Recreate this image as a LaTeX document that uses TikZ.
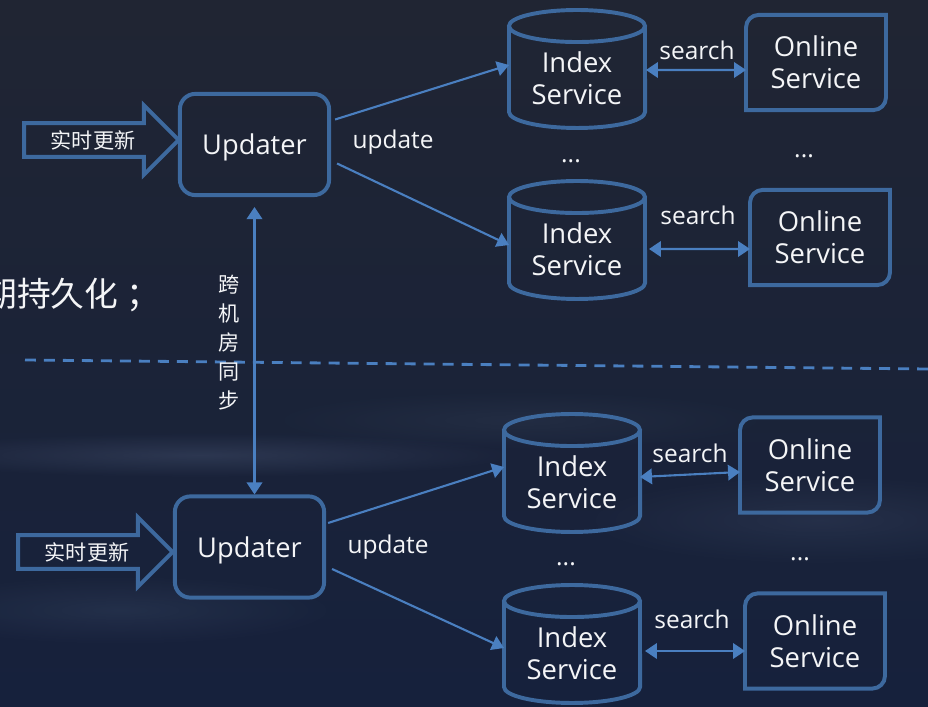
\documentclass[tikz,border=0pt]{standalone}
\usepackage{fontspec}
\setmainfont{Open Sans}
\newfontfamily\cjk{Noto Sans CJK SC}
\usepackage{tikz}
\usetikzlibrary{shapes.geometric, shapes.arrows, arrows.meta, positioning, calc, fadings}
\definecolor{bgTop}{RGB}{32,37,51}
\definecolor{bgBot}{RGB}{22,33,60}
\definecolor{cCloud}{RGB}{110,130,165}
\definecolor{cBox}{RGB}{61,105,158}
\definecolor{cLine}{RGB}{74,127,192}
\definecolor{cText}{RGB}{244,245,247}
\tikzfading[name=softglow, inner color=transparent!0, outer color=transparent!100]
\tikzset{
	updbox/.style ={rectangle, rounded corners=11pt, draw=cBox, line width=2.8pt, minimum width=3.73cm, minimum height=2.53cm, text depth=0pt, text=cText, font=\fontsize{19.4}{23}\selectfont},
	idxdb/.style  ={rectangle, outer sep=1.4pt, minimum width=3.3cm, minimum height=2.85cm, align=center, text=cText, font=\fontsize{19.5}{22.7}\selectfont},
	onlbox/.style ={rectangle, outer sep=1.4pt, minimum width=3.4cm, minimum height=2.28cm, align=center, text=cText, font=\fontsize{19.5}{22.7}\selectfont},
	outl/.style   ={draw=cBox, line width=2.8pt},
	bigarrow/.style={single arrow, single arrow head extend=0.45cm, draw=cBox, line width=2.8pt, minimum height=3.86cm, inner ysep=3.6pt, text=cText, font=\cjk\fontsize{15}{18}\selectfont},
	lbl/.style    ={text=cText, font=\fontsize{17.4}{20}\selectfont},
	flow/.style   ={-{Triangle[length=8.5pt, width=10.5pt]}, draw=cLine, line width=1.5pt},
	dflow/.style  ={{Triangle[length=8.5pt, width=11pt]}-{Triangle[length=8.5pt, width=11pt]}, draw=cLine, line width=1.5pt},
	cloud/.style  ={fill=cCloud, path fading=softglow},
}
% online service box: round corners top left / bottom right
\newcommand{\onlsvc}[3]{%
	\node[onlbox] (#1) at (#2,#3) {Online\\Service};
	\draw[outl] (#1.north east) -- ([yshift=9pt]#1.south east) arc[start angle=0, end angle=-90, radius=9pt] -- (#1.south west) -- ([yshift=-9pt]#1.north west) arc[start angle=180, end angle=90, radius=9pt] -- cycle;}
% index service: a can, text sits a bit low
\newcommand{\idxsvc}[3]{%
	\node[idxdb] (#1) at (#2,#3) {\mbox{}\\[5pt]Index\\Service};
	\draw[outl] ([yshift=-0.4cm]#1.north west) -- ([yshift=0.4cm]#1.south west) arc[start angle=180, end angle=360, x radius=1.7cm, y radius=0.4cm] -- ([yshift=-0.4cm]#1.north east);
	\draw[outl] ([yshift=-0.4cm]#1.north) ellipse [x radius=1.7cm, y radius=0.4cm];}

\begin{document}
\begin{tikzpicture}[x=0.025cm, y=-0.025cm]
	\useasboundingbox (0,0) rectangle (928,707);
	\clip (0,0) rectangle (928,707);
	% background
	\fill[top color=bgTop, bottom color=bgBot] (0,0) rectangle (928,707);
	\fill[cloud, opacity=0.22] (200,455) ellipse (320 and 22);
	\fill[cloud, opacity=0.14] (820,520) ellipse (240 and 45);
	\fill[cloud, opacity=0.14] (120,610) ellipse (220 and 35);
	\fill[cloud, opacity=0.10] (520,420) ellipse (260 and 30);
	\node[anchor=west, inner sep=0pt, text=cText, font=\cjk\fontsize{24}{28}\selectfont] (note) at (-17,295) {期持久化\hspace{5.5pt}；};
	% separator
	\draw[cLine, line width=2pt, dash pattern=on 7.8pt off 5.7pt] (25,360) -- (928,369);
	% upper room
	\node[bigarrow] (in1) at (93,140) {实时更新};
	\node[updbox] (u1) at (254.5,144.5) {Updater};
	\idxsvc{c1}{577}{69}
	\idxsvc{c2}{577}{240}
	\onlsvc{o1}{816}{62.5}
	\onlsvc{o2}{820}{237.5}
	\draw[flow] ([shift={(4,-25)}]u1.east) -- ([shift={(0,-4)}]c1.west);
	\draw[flow] ([shift={(6,19)}]u1.east) -- ([shift={(0,5)}]c2.west);
	\node[lbl] (up1) at (393,142) {update};
	\draw[dflow] ([shift={(1,1)}]c1.east) -- ([shift={(0,7.5)}]o1.west);
	\draw[dflow] ([shift={(4,9)}]c2.east) -- ([shift={(0,11.5)}]o2.west);
	\node[lbl] (s1) at (697,50) {search};
	\node[lbl] (s2) at (698,215) {search};
	\node[lbl] (d1) at (571,161) {...};
	\node[lbl] (d2) at (804,156) {...};
	% lower room
	\node[bigarrow] (in2) at (87,552) {实时更新};
	\node[updbox] (u2) at (249.5,547) {Updater};
	\idxsvc{c3}{572}{473}
	\idxsvc{c4}{572}{644}
	\onlsvc{o3}{810}{465}
	\onlsvc{o4}{815}{641}
	\draw[flow] ([shift={(2,-24)}]u2.east) -- ([shift={(0,-6)}]c3.west);
	\draw[flow] ([shift={(6,22)}]u2.east) -- ([shift={(0,4)}]c4.west);
	\node[lbl] (up2) at (388,547) {update};
	\draw[dflow] ([shift={(0,4)}]c3.east) -- ([shift={(0,7)}]o3.west);
	\draw[dflow] ([shift={(5,7)}]c4.east) -- ([shift={(0,10)}]o4.west);
	\node[lbl] (s3) at (690,453) {search};
	\node[lbl] (s4) at (692,619) {search};
	\node[lbl] (d3) at (566,564) {...};
	\node[lbl] (d4) at (800,559) {...};
	% sync between rooms
	\draw[dflow] ([shift={(0,10)}]u1.south) -- (u1.south |- u2.north);
	\node[align=center, text=cText, font=\cjk\fontsize{15}{20.6}\selectfont] (sync) at (229,343) {跨\\机\\房\\同\\步};
\end{tikzpicture}
\end{document}
